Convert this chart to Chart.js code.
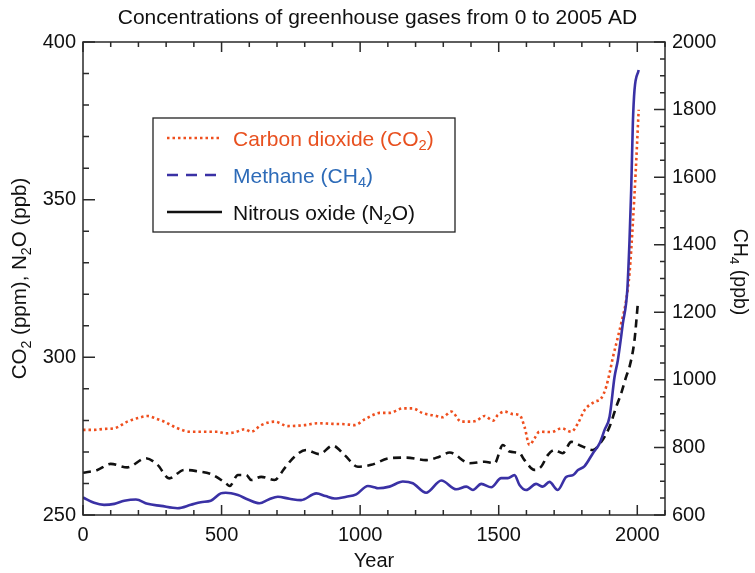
<!DOCTYPE html>
<html>
<head>
<meta charset="utf-8">
<script src="https://cdn.jsdelivr.net/npm/chart.js@4.4.0/dist/chart.umd.min.js"></script>
<style>
  html, body { margin: 0; padding: 0; background: #fff; }
</style>
</head>
<body>
<canvas id="chart" width="755" height="573"></canvas>
<script>
// values
const co2Years = [0, 40, 76, 113, 160, 200, 233, 265, 293, 341, 389, 440, 485, 515, 550, 583, 607, 643, 691, 739, 799, 847, 900, 944, 980, 1016, 1046, 1070, 1106, 1154, 1190, 1226, 1275, 1297, 1329, 1365, 1395, 1419, 1449, 1479, 1497, 1521, 1551, 1575, 1593, 1611, 1629, 1647, 1690, 1726, 1762, 1786, 1810, 1846, 1870, 1888, 1900, 1912, 1926, 1942, 1960, 1972, 1984, 1994, 2005];
const co2Values = [277.0, 277.0, 277.3, 277.5, 279.6, 280.8, 281.4, 280.5, 279.6, 277.5, 276.4, 276.4, 276.4, 275.9, 276.3, 277.2, 276.4, 278.5, 279.6, 278.2, 278.5, 279.1, 278.9, 278.8, 278.5, 280.3, 281.7, 282.4, 282.4, 283.8, 283.8, 282.3, 281.4, 281.0, 282.8, 279.6, 279.6, 279.9, 281.4, 279.9, 281.7, 282.8, 282.0, 281.7, 278.0, 272.2, 274.3, 276.4, 276.3, 277.5, 276.4, 279.1, 283.3, 285.9, 287.0, 290.7, 295.0, 300.0, 305.0, 310.8, 318.2, 326.7, 342.5, 358.4, 378.5];

const ch4Years = [0, 40, 76, 113, 149, 191, 233, 281, 341, 389, 425, 461, 497, 515, 559, 595, 637, 670, 703, 745, 787, 842, 875, 908, 950, 986, 1028, 1052, 1064, 1106, 1154, 1190, 1238, 1293, 1347, 1383, 1407, 1437, 1473, 1509, 1533, 1557, 1575, 1599, 1635, 1659, 1683, 1713, 1744, 1768, 1786, 1810, 1840, 1864, 1882, 1900, 1918, 1930, 1948, 1964, 1972, 1978, 1984, 1990, 2005];
const ch4Values = [652, 636, 630, 633, 642, 646, 633, 627, 620, 630, 638, 642, 664, 666, 659, 646, 635, 646, 654, 648, 644, 664, 656, 649, 654, 661, 686, 682, 679, 684, 699, 694, 666, 702, 676, 684, 674, 692, 682, 709, 709, 718, 689, 674, 692, 684, 698, 674, 713, 718, 733, 745, 783, 812, 852, 891, 1009, 1059, 1167, 1266, 1414, 1562, 1759, 1858, 1917];

const n2oYears = [0, 52, 100, 160, 227, 269, 311, 365, 410, 461, 515, 529, 559, 589, 607, 643, 691, 727, 763, 805, 853, 901, 944, 992, 1040, 1106, 1166, 1238, 1286, 1323, 1395, 1449, 1485, 1515, 1539, 1575, 1593, 1629, 1653, 1677, 1701, 1731, 1762, 1798, 1840, 1870, 1900, 1924, 1942, 1960, 1972, 1990, 2002];
const n2oValues = [263.4, 264.3, 266.2, 265.1, 268.0, 265.9, 261.6, 264.3, 263.9, 263.0, 260.1, 259.2, 262.7, 262.7, 261.1, 262.1, 261.1, 264.8, 268.5, 270.6, 269.3, 272.0, 269.0, 265.3, 265.9, 268.0, 268.2, 267.4, 268.5, 269.8, 266.4, 266.9, 266.4, 272.2, 270.1, 269.6, 267.4, 264.3, 265.3, 269.0, 270.6, 269.6, 273.2, 271.9, 270.6, 273.2, 278.0, 284.3, 288.6, 293.9, 297.0, 305.5, 317.1];

const xTicks = [0, 500, 1000, 1500, 2000];
const chartTitle = 'Concentrations of greenhouse gases from 0 to 2005 AD';
const xTitle = 'Year';
const leftTitle = 'CO_2 (ppm), N_2O (ppb)';
const rightTitle = 'CH_4 (ppb)';
const legendLabels = ['Carbon dioxide (CO_2)', 'Methane (CH_4)', 'Nitrous oxide (N_2O)'];

const FONT = "'Liberation Sans', Arial, sans-serif";
const ORANGE = '#ef4f1e';
const INDIGO = '#3a31a5';
const BLACK = '#111111';
Chart.defaults.font.family = FONT;
Chart.defaults.color = BLACK;

// legend in the figure: samples do not match the plotted line styles, kept as drawn
const legendLineColors = [ORANGE, INDIGO, BLACK];
const legendTextColors = ['#e8501f', '#2d6bb8', BLACK];
const legendDashes = [[2.5, 3], [11, 8], []];

function richParts(text) {
  return text.split(/(_\d)/).filter(s => s).map(s =>
    s[0] === '_' ? { t: s.slice(1), sub: true } : { t: s, sub: false });
}

function drawRich(ctx, text, x, y, size, align) {
  const parts = richParts(text);
  const subSize = size * 0.7;
  let w = 0;
  parts.forEach(p => {
    ctx.font = (p.sub ? subSize : size) + 'px ' + FONT;
    p.w = ctx.measureText(p.t).width;
    w += p.w;
  });
  let cx = align === 'center' ? x - w / 2 : x;
  ctx.textAlign = 'left';
  ctx.textBaseline = 'alphabetic';
  parts.forEach(p => {
    ctx.font = (p.sub ? subSize : size) + 'px ' + FONT;
    ctx.fillText(p.t, cx, p.sub ? y + size * 0.22 : y);
    cx += p.w;
  });
}

// frame, inward ticks, rotated axis titles and the boxed legend
const decorations = {
  id: 'decorations',
  afterDraw(chart) {
    const { ctx, chartArea: a, scales } = chart;
    ctx.save();
    ctx.strokeStyle = '#2a2a2a';
    ctx.lineWidth = 1.5;
    ctx.strokeRect(a.left, a.top, a.right - a.left, a.bottom - a.top);

    ctx.beginPath();
    for (let v = 0; v <= 2100; v += 100) {
      const px = scales.x.getPixelForValue(v);
      const len = v % 500 === 0 ? 10 : 5;
      ctx.moveTo(px, a.bottom); ctx.lineTo(px, a.bottom - len);
      ctx.moveTo(px, a.top); ctx.lineTo(px, a.top + len);
    }
    for (let v = 250; v <= 400; v += 10) {
      const py = scales.y.getPixelForValue(v);
      const len = v % 50 === 0 ? 12 : 6;
      ctx.moveTo(a.left, py); ctx.lineTo(a.left + len, py);
    }
    for (let v = 600; v <= 2000; v += 50) {
      const py = scales.y1.getPixelForValue(v);
      const len = v % 200 === 0 ? 11 : 5;
      ctx.moveTo(a.right, py); ctx.lineTo(a.right - len, py);
    }
    ctx.stroke();

    ctx.fillStyle = BLACK;
    const ts = 20.5;
    ctx.save();
    ctx.translate(19, (a.top + a.bottom) / 2);
    ctx.rotate(-Math.PI / 2);
    drawRich(ctx, leftTitle, 0, ts * 0.36, ts, 'center');
    ctx.restore();
    ctx.save();
    ctx.translate(741, 272);
    ctx.rotate(Math.PI / 2);
    drawRich(ctx, rightTitle, 0, 19.5 * 0.36, 19.5, 'center');
    ctx.restore();

    // legend box
    ctx.lineWidth = 1.3;
    ctx.strokeStyle = '#222';
    ctx.strokeRect(153, 118, 302, 114);
    const rows = [138, 175, 212];
    legendLabels.forEach((label, i) => {
      ctx.beginPath();
      ctx.setLineDash(legendDashes[i]);
      ctx.strokeStyle = legendLineColors[i];
      ctx.lineWidth = 2.5;
      ctx.moveTo(167, rows[i]);
      ctx.lineTo(222, rows[i]);
      ctx.stroke();
      ctx.setLineDash([]);
      ctx.fillStyle = legendTextColors[i];
      drawRich(ctx, label, 233, rows[i] + 21 * 0.36, 21, 'left');
    });
    ctx.restore();
  }
};

const toPoints = (xs, ys) => xs.map((x, i) => ({ x: x, y: ys[i] }));
const plainNumber = v => String(v);

new Chart(document.getElementById('chart'), {
  type: 'line',
  data: {
    datasets: [
      {
        label: 'Methane (CH4)',
        data: toPoints(ch4Years, ch4Values),
        yAxisID: 'y1',
        borderColor: INDIGO,
        borderWidth: 2.6
      },
      {
        label: 'Nitrous oxide (N2O)',
        data: toPoints(n2oYears, n2oValues),
        yAxisID: 'y',
        borderColor: BLACK,
        borderWidth: 2.6,
        borderDash: [8, 5.5]
      },
      {
        label: 'Carbon dioxide (CO2)',
        data: toPoints(co2Years, co2Values),
        yAxisID: 'y',
        borderColor: ORANGE,
        borderWidth: 2.6,
        borderDash: [2.5, 3]
      }
    ]
  },
  options: {
    responsive: false,
    animation: false,
    layout: { padding: 0 },
    elements: {
      point: { radius: 0 },
      line: { cubicInterpolationMode: 'monotone', fill: false }
    },
    plugins: {
      legend: { display: false },
      tooltip: { enabled: false },
      title: {
        display: true,
        text: chartTitle,
        color: BLACK,
        font: { size: 21, weight: 'normal' },
        padding: { top: 6, bottom: 10.8 }
      }
    },
    scales: {
      x: {
        type: 'linear',
        min: 0,
        max: 2100,
        grid: { display: false, drawTicks: false },
        border: { display: false },
        ticks: { font: { size: 20 }, color: BLACK, padding: 8, maxRotation: 0, callback: plainNumber },
        afterBuildTicks: s => { s.ticks = xTicks.map(v => ({ value: v })); },
        afterFit: s => { s.height = 58; },
        title: { display: true, text: xTitle, font: { size: 20 }, color: BLACK, padding: 0 }
      },
      y: {
        position: 'left',
        min: 250,
        max: 400,
        grid: { display: false, drawTicks: false },
        border: { display: false },
        ticks: { stepSize: 50, font: { size: 20 }, color: BLACK, padding: 7, callback: plainNumber },
        afterFit: s => { s.width = 83; }
      },
      y1: {
        position: 'right',
        min: 600,
        max: 2000,
        grid: { display: false, drawTicks: false },
        border: { display: false },
        ticks: { stepSize: 200, font: { size: 20 }, color: BLACK, padding: 7, callback: plainNumber },
        afterFit: s => { s.width = 90; }
      }
    }
  },
  plugins: [decorations]
});
</script>
</body>
</html>
